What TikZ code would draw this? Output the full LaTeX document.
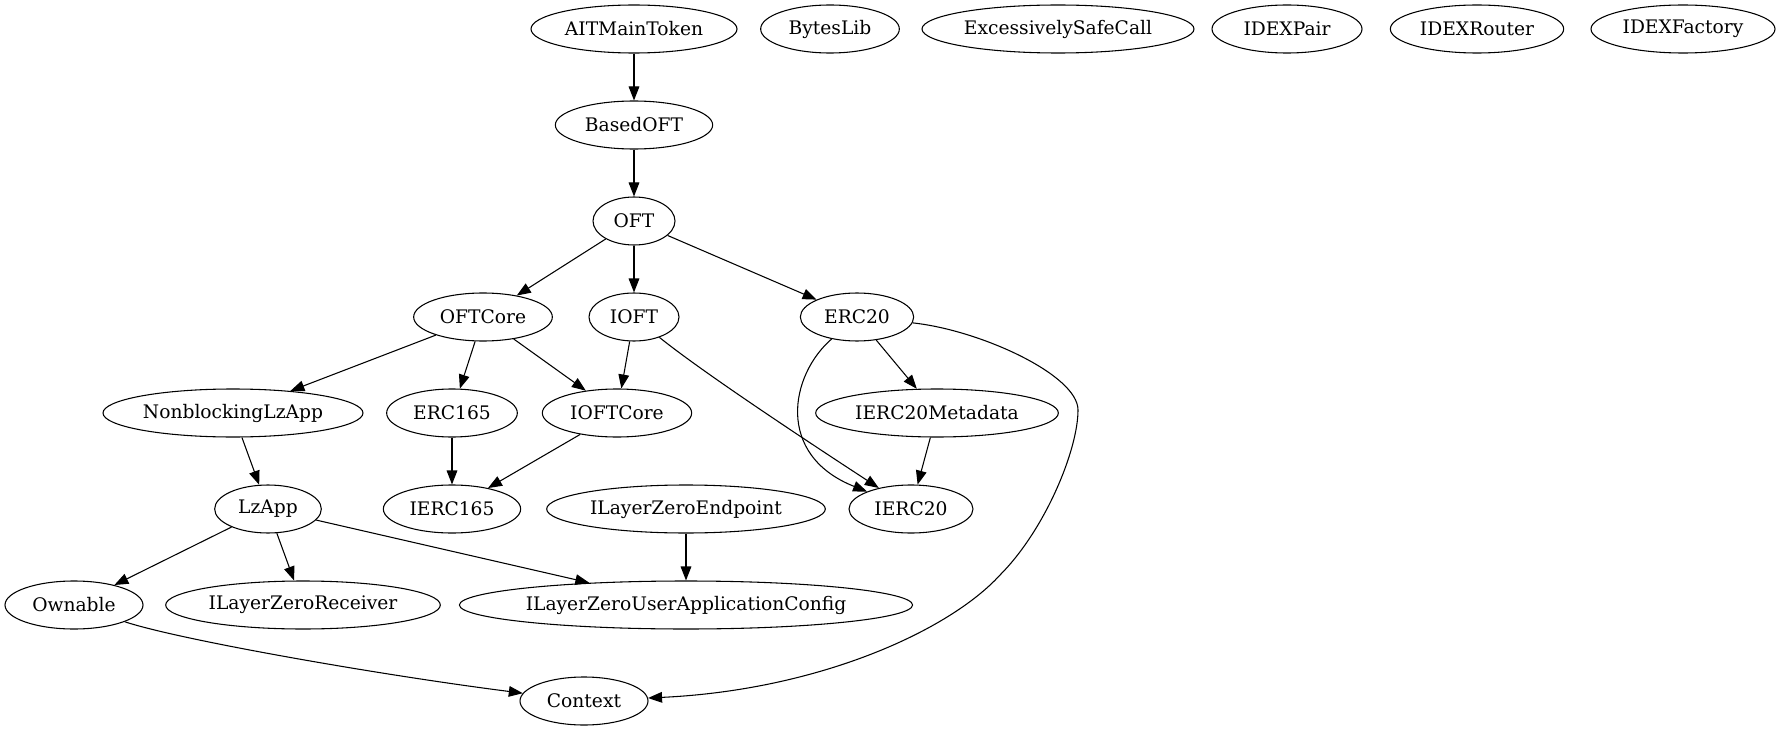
\documentclass[tikz,border=0pt]{standalone}
\usepackage{fontspec}
\setmainfont{DejaVu Serif}
\usetikzlibrary{arrows.meta,shapes.geometric}

\begin{document}
\begin{tikzpicture}[->,>={Triangle[length=10.5pt,width=8pt]},thick,x=0.75pt,y=-0.75pt,
                    node distance=72pt,
                    contract/.style={draw,ellipse,minimum height=36pt,inner sep=0pt,
                                     font=\fontsize{14}{17}\selectfont}]
  \useasboundingbox (0,0) rectangle (1781,731);

  \node[contract,minimum width=154.5pt] (AITMainToken) at (634,29) {AITMainToken};
  \node[contract,minimum width=104pt] (BytesLib) at (830,29) {BytesLib};
  \node[contract,minimum width=204pt] (ExcessivelySafeCall) at (1058,29) {ExcessivelySafeCall};
  \node[contract,minimum width=112.5pt] (IDEXPair) at (1287,29) {IDEXPair};
  \node[contract,minimum width=130pt] (IDEXRouter) at (1477,29) {IDEXRouter};
  \node[contract,minimum width=138pt] (IDEXFactory) at (1683,29) {IDEXFactory};

  \node[contract,minimum width=118pt] (BasedOFT) [below of=AITMainToken] {BasedOFT};
  \node[contract,minimum width=61.5pt] (OFT) [below of=BasedOFT] {OFT};

  \node[contract,minimum width=104pt] (OFTCore) at (483,317) {OFTCore};
  \node[contract,minimum width=67.5pt] (IOFT) [below of=OFT] {IOFT};
  \node[contract,minimum width=85pt] (ERC20) at (857,317) {ERC20};

  \node[contract,minimum width=195pt] (NonblockingLzApp) at (233,413) {NonblockingLzApp};
  \node[contract,minimum width=98pt] (ERC165) at (452,413) {ERC165};
  \node[contract,minimum width=112pt] (IOFTCore) at (617,413) {IOFTCore};
  \node[contract,minimum width=182pt] (IERC20Metadata) at (937,413) {IERC20Metadata};

  \node[contract,minimum width=80pt] (LzApp) at (268,509) {LzApp};
  \node[contract,minimum width=103pt] (IERC165) [below of=ERC165] {IERC165};
  \node[contract,minimum width=209pt] (ILayerZeroEndpoint) at (686,509) {ILayerZeroEndpoint};
  \node[contract,minimum width=93pt] (IERC20) at (911,509) {IERC20};

  \node[contract,minimum width=103.5pt] (Ownable) at (74,605) {Ownable};
  \node[contract,minimum width=206pt] (ILayerZeroReceiver) at (303,605) {ILayerZeroReceiver};
  \node[contract,minimum width=333pt] (ILayerZeroUserApplicationConfig) [below of=ILayerZeroEndpoint] {ILayerZeroUserApplicationConfig};

  \node[contract,minimum width=96pt] (Context) at (584,701) {Context};

  \path (AITMainToken) edge (BasedOFT)
        (BasedOFT) edge (OFT)
        (OFT) edge (OFTCore)
        (OFT) edge (IOFT)
        (OFT) edge (ERC20)
        (OFTCore) edge (NonblockingLzApp)
        (OFTCore) edge (ERC165)
        (OFTCore) edge (IOFTCore)
        (IOFT) edge (IOFTCore)
        (ERC20) edge (IERC20Metadata)
        (IERC20Metadata) edge (IERC20)
        (NonblockingLzApp) edge (LzApp)
        (ERC165) edge (IERC165)
        (IOFTCore) edge (IERC165)
        (LzApp) edge (Ownable)
        (LzApp) edge (ILayerZeroReceiver)
        (LzApp) edge (ILayerZeroUserApplicationConfig)
        (ILayerZeroEndpoint) edge (ILayerZeroUserApplicationConfig);

  % curved ones
  \draw (IOFT) .. controls (700,370) and (790,430) .. (IERC20);
  \draw (ERC20) .. controls (790,375) and (775,455) .. (IERC20);
  \draw (ERC20) .. controls (980,330) and (1078,375) .. (1078,410)
        .. controls (1078,450) and (1045,530) .. (1000,575)
        .. controls (950,630) and (820,690) .. (Context);
  \draw (Ownable) .. controls (180,640) and (380,675) .. (Context);
\end{tikzpicture}
\end{document}
